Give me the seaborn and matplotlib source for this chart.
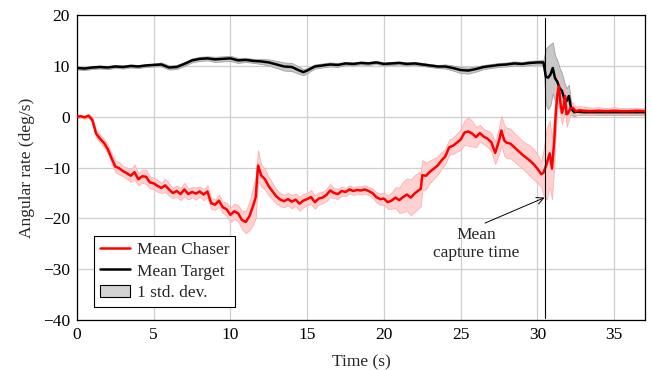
import numpy as np
import pandas as pd
import matplotlib
matplotlib.use("Agg")
import matplotlib.pyplot as plt
import seaborn as sns
from matplotlib.patches import Patch
from matplotlib.lines import Line2D

# chaser angular rate
t_chaser = [0, 0.25, 0.5, 0.75, 1.0, 1.25, 1.5, 1.75, 2.0, 2.25, 2.5, 2.75, 3.0, 3.25, 3.5, 3.75,
            4.0, 4.25, 4.5, 4.75, 5.0, 5.25, 5.5, 5.75, 6.0, 6.25, 6.5, 6.75, 7.0, 7.25, 7.5, 7.75,
            8.0, 8.25, 8.5, 8.75, 9.0, 9.25, 9.5, 9.75, 10.0, 10.25, 10.5, 10.75, 11.0, 11.25, 11.5,
            11.65, 11.8, 11.9, 12.0, 12.25, 12.5, 12.75, 13.0, 13.25, 13.5, 13.75, 14.0, 14.25, 14.5,
            14.75, 15.0, 15.25, 15.5, 15.75, 16.0, 16.25, 16.5, 16.75, 17.0, 17.25, 17.5, 17.75, 18.0,
            18.25, 18.5, 18.75, 19.0, 19.25, 19.5, 19.75, 20.0, 20.25, 20.5, 20.75, 21.0, 21.25, 21.5,
            21.75, 22.0, 22.25, 22.4, 22.5, 22.75, 23.0, 23.25, 23.5, 23.75, 24.0, 24.25, 24.5, 24.75,
            25.0, 25.25, 25.5, 25.75, 26.0, 26.25, 26.5, 26.75, 27.0, 27.25, 27.5, 27.65, 27.85, 28.0,
            28.25, 28.5, 28.75, 29.0, 29.25, 29.5, 29.75, 30.0, 30.25, 30.4, 30.6, 30.8, 30.95, 31.1,
            31.2, 31.3, 31.4, 31.5, 31.6, 31.7, 31.8, 31.9, 32.0, 32.15, 32.3, 32.5, 32.75, 33.0, 33.5,
            34.0, 34.5, 35.0, 35.5, 36.0, 36.5, 37.0]
chaser_mean = [0.0, 0.1, -0.1, 0.2, -0.6, -3.3, -4.3, -5.1, -6.3, -8.1, -9.8, -10.1, -10.7, -11.1,
               -11.6, -10.9, -12.3, -11.7, -11.8, -12.9, -13.1, -13.6, -14.0, -13.5, -14.3, -15.0,
               -14.6, -15.2, -14.3, -15.2, -14.8, -15.1, -14.7, -15.3, -14.7, -17.0, -17.3, -16.5,
               -17.8, -18.2, -19.3, -18.6, -19.0, -20.3, -20.7, -19.5, -17.3, -15.8, -9.6, -10.5,
               -11.5, -12.3, -13.7, -14.7, -15.7, -16.3, -16.6, -16.2, -16.7, -16.3, -17.1, -16.5,
               -16.2, -15.8, -16.8, -16.1, -15.9, -15.4, -14.5, -15.0, -15.2, -14.6, -14.8, -14.3,
               -14.6, -14.4, -14.5, -14.3, -14.6, -15.0, -15.8, -16.2, -16.1, -16.8, -16.5, -15.9,
               -16.4, -15.8, -15.3, -15.9, -15.1, -14.5, -14.2, -11.5, -11.6, -10.8, -10.2, -9.6,
               -8.6, -7.8, -6.0, -5.7, -5.1, -4.5, -3.1, -2.9, -3.3, -4.0, -3.2, -3.9, -4.3, -5.0,
               -7.1, -4.7, -2.7, -4.7, -5.1, -5.3, -6.0, -6.7, -7.4, -8.0, -8.6, -9.3, -10.2, -11.3,
               -11.0, -9.3, -7.2, -10.2, -4.7, 0.8, 4.3, 6.0, 2.8, 0.8, 1.8, 4.1, 0.5, 0.7, 1.6, 1.8,
               1.1, 1.3, 1.2, 1.1, 1.2, 1.1, 1.2, 1.1, 1.1, 1.2, 1.1]
chaser_std = [0.3, 0.3, 0.3, 0.4, 0.5, 0.7, 0.8, 0.8, 0.9, 1.0, 1.1, 1.2, 1.0, 1.1, 1.2, 1.5,
              1.2, 1.3, 1.4, 1.2, 1.1, 1.2, 1.0, 1.3, 1.2, 1.0, 1.1, 1.2, 1.3, 1.1, 1.0, 1.2,
              1.0, 1.1, 1.2, 1.1, 1.0, 1.2, 1.1, 1.3, 1.4, 1.5, 1.6, 1.8, 2.2, 2.8, 3.8,
              4.0, 3.0, 2.5, 2.2, 2.0, 1.8, 1.6, 1.4, 1.3, 1.2, 1.2, 1.3, 1.2, 1.4, 1.3,
              1.2, 1.4, 1.3, 1.2, 1.1, 1.2, 1.3, 1.0, 1.0, 0.9, 0.8, 0.8, 0.8, 0.7, 0.8, 0.8,
              0.8, 0.9, 1.0, 1.1, 1.2, 1.3, 1.6, 2.0, 2.5, 3.0, 3.2, 3.5, 3.6, 3.5, 3.4, 3.0,
              2.6, 2.2, 2.0, 1.8, 1.6, 1.5, 1.5, 1.6, 1.8, 2.0, 2.4, 2.8, 2.5, 2.0, 1.6, 1.5,
              1.6, 1.8, 2.2, 2.6, 2.9, 3.0, 3.0, 2.9, 2.8, 2.8, 2.7, 2.8, 3.0, 3.0, 2.8, 2.5,
              4.5, 7.0, 6.5, 6.0, 5.0, 3.5, 3.0, 2.5, 2.5, 2.2, 2.0, 2.0, 2.5, 1.8, 1.2, 1.0,
              0.9, 0.8, 0.8, 0.7, 0.7, 0.6, 0.7, 0.6, 0.6, 0.6, 0.6]

# target angular rate
t_target = [0, 0.5, 1.0, 1.5, 2.0, 2.5, 3.0, 3.5, 4.0, 4.5, 5.0, 5.5, 6.0, 6.5, 7.0, 7.5, 8.0,
            8.5, 9.0, 9.5, 10.0, 10.5, 11.0, 11.5, 12.0, 12.5, 13.0, 13.5, 14.0, 14.5, 14.75, 15.0,
            15.5, 16.0, 16.5, 17.0, 17.5, 18.0, 18.5, 19.0, 19.5, 20.0, 20.5, 21.0, 21.5, 22.0,
            22.5, 23.0, 23.5, 24.0, 24.5, 25.0, 25.5, 26.0, 26.5, 27.0, 27.5, 28.0, 28.5, 29.0,
            29.5, 30.0, 30.4, 30.55, 30.7, 30.85, 31.0, 31.15, 31.3, 31.45, 31.6, 31.75, 31.9,
            32.05, 32.2, 32.4, 32.6, 33.0, 34.0, 35.0, 36.0, 37.0]
target_mean = [9.6, 9.5, 9.7, 9.8, 9.7, 9.9, 9.8, 10.0, 9.9, 10.1, 10.2, 10.3, 9.7, 9.8, 10.4,
               11.1, 11.4, 11.5, 11.3, 11.4, 11.5, 11.1, 11.2, 11.0, 10.9, 10.7, 10.3, 9.9, 9.8,
               9.1, 8.8, 9.1, 9.9, 10.1, 10.3, 10.2, 10.5, 10.4, 10.6, 10.5, 10.7, 10.4, 10.5,
               10.6, 10.4, 10.5, 10.3, 10.1, 9.9, 9.9, 9.6, 9.2, 9.1, 9.4, 9.8, 10.0, 10.2, 10.3,
               10.5, 10.4, 10.6, 10.7, 10.7, 7.9, 7.7, 8.3, 9.6, 7.6, 6.9, 5.6, 5.1, 3.6, 3.1,
               4.1, 1.6, 0.9, 1.0, 0.9, 0.9, 0.9, 0.9, 0.9]
target_std = [0.3, 0.3, 0.3, 0.3, 0.3, 0.3, 0.3, 0.3, 0.3, 0.3, 0.3, 0.4, 0.4, 0.4, 0.4, 0.4,
              0.4, 0.4, 0.5, 0.5, 0.5, 0.5, 0.4, 0.4, 0.5, 0.6, 0.7, 0.8, 0.8, 0.7, 0.6, 0.5,
              0.4, 0.4, 0.4, 0.4, 0.3, 0.3, 0.3, 0.3, 0.3, 0.3, 0.3, 0.3, 0.3, 0.3, 0.3, 0.3,
              0.3, 0.4, 0.5, 0.6, 0.6, 0.5, 0.4, 0.4, 0.4, 0.4, 0.4, 0.4, 0.4, 0.4, 0.5, 5.5,
              6.2, 6.0, 5.0, 4.5, 4.2, 4.0, 3.5, 3.2, 2.5, 2.2, 1.2, 0.8, 0.6, 0.5, 0.5, 0.5,
              0.5, 0.5]

capture_time = 30.47

chaser = pd.DataFrame({"t": t_chaser, "mean": chaser_mean, "std": chaser_std})
target = pd.DataFrame({"t": t_target, "mean": target_mean, "std": target_std})

sns.set_theme(style="whitegrid")
plt.rcParams["font.family"] = ["Liberation Serif", "DejaVu Serif"]
fs = 12.5

fig = plt.figure(figsize=(6.52, 3.70), dpi=100)
ax = fig.add_axes([0.118, 0.135, 0.871, 0.824])

ax.fill_between(target["t"], target["mean"] - target["std"], target["mean"] + target["std"],
                color="#c8c8c8", edgecolor="#a0a0a0", linewidth=0.6, zorder=2)
ax.fill_between(chaser["t"], chaser["mean"] - chaser["std"], chaser["mean"] + chaser["std"],
                color="#ffcccc", edgecolor="#ffaaaa", linewidth=0.6, alpha=0.9, zorder=2)
sns.lineplot(data=target, x="t", y="mean", color="black", linewidth=1.8, ax=ax, zorder=3)
sns.lineplot(data=chaser, x="t", y="mean", color="red", linewidth=1.8, ax=ax, zorder=4)

ax.plot([capture_time, capture_time], [-39.5, 19.5], color="black", linewidth=0.8, zorder=5)
ax.annotate("Mean\ncapture time", xy=(capture_time, -15.9), xytext=(26.0, -25.0),
            ha="center", va="center", fontsize=fs, linespacing=1.15,
            arrowprops=dict(arrowstyle="->", color="black", lw=0.7, shrinkA=1, shrinkB=0,
                            relpos=(0.5, 1.0)))

ax.set_xlim(0, 37)
ax.set_ylim(-40, 20)
ax.set_xticks([0, 5, 10, 15, 20, 25, 30, 35])
ax.set_yticks([-40, -30, -20, -10, 0, 10, 20])
ax.set_xlabel("Time (s)", fontsize=fs, labelpad=8)
ax.set_ylabel("Angular rate (deg/s)", fontsize=fs, labelpad=6)
ax.tick_params(labelsize=fs, direction="in", length=2.5, width=0.6, pad=5, colors="black")
ax.grid(True, color="#cfcfcf", linewidth=0.9)
for s in ax.spines.values():
    s.set_color("black")
    s.set_linewidth(0.9)

handles = [Line2D([], [], color="red", lw=1.8),
           Line2D([], [], color="black", lw=1.8),
           Patch(facecolor="#d3d3d3", edgecolor="black", linewidth=0.8)]
leg = ax.legend(handles, ["Mean Chaser", "Mean Target", "1 std. dev."],
                loc="lower left", bbox_to_anchor=(0.03, 0.043), fontsize=fs,
                frameon=True, fancybox=False, framealpha=1, edgecolor="black",
                borderpad=0.35, labelspacing=0.3, handlelength=1.75, handletextpad=0.35,
                borderaxespad=0)
leg.get_frame().set_linewidth(0.8)

fig.savefig("out.png", dpi=100)
